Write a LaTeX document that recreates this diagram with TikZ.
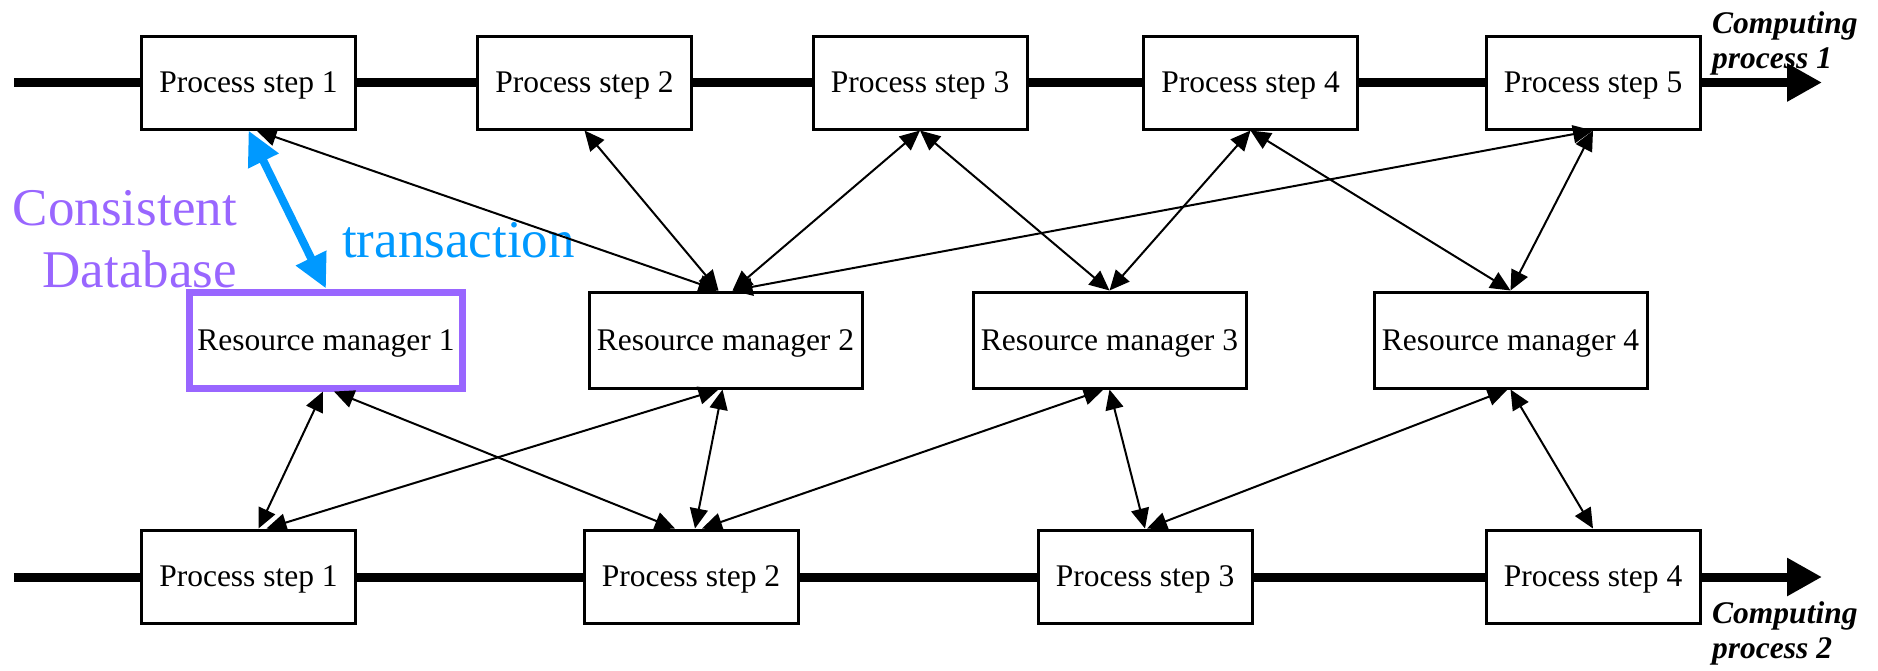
\documentclass[tikz,border=0pt]{standalone}
\usepackage{fontspec}
\setmainfont{Liberation Serif}
\usetikzlibrary{arrows.meta}
\definecolor{dbpurple}{RGB}{153,102,255}
\definecolor{txblue}{RGB}{0,153,255}

\begin{document}
\begin{tikzpicture}[x=1pt,y=-1pt,
  stepbox/.style={draw, line width=3pt, fill=white, minimum width=214pt,
    minimum height=93pt, inner sep=0pt, text depth=0pt,
    font=\fontsize{31.5pt}{35pt}\selectfont},
  rmbox/.style={stepbox, minimum width=273pt, minimum height=96pt},
  flow/.style={line width=9pt, -{Triangle[length=35pt,width=36pt]}},
  link/.style={line width=2pt,
    {Triangle[length=20pt,width=18pt]}-{Triangle[length=20pt,width=18pt]}},
  txlink/.style={color=txblue, line width=8pt,
    {Triangle[length=34pt,width=32pt]}-{Triangle[length=34pt,width=32pt]}},
  proclabel/.style={anchor=north west, inner sep=0pt, align=left,
    font=\fontsize{31.5pt}{35pt}\selectfont\bfseries\itshape},
  bigtext/.style={inner sep=0pt, font=\fontsize{53pt}{62pt}\selectfont}
]
\useasboundingbox (0,0) rectangle (1878,670);

% the two computing processes as time lines
\coordinate (flowAin)  at (14,82.5);
\coordinate (flowAout) at (1822,82.5);
\coordinate (flowBin)  at (14,577);
\coordinate (flowBout) at (1822,577);
\draw[flow] (flowAin) -- (flowAout);
\draw[flow] (flowBin) -- (flowBout);

% process steps of computing process 1
\node[stepbox] (t1) at (248.5,82.5) {Process step 1};
\node[stepbox] (t2) at (584.5,82.5) {Process step 2};
\node[stepbox] (t3) at (920,82.5)   {Process step 3};
\node[stepbox] (t4) at (1250.5,82.5) {Process step 4};
\node[stepbox] (t5) at (1593,82.5)  {Process step 5};

% resource managers
\node[rmbox, draw=dbpurple, line width=7pt] (rm1) at (326,340) {Resource manager 1};
\node[rmbox] (rm2) at (725.5,340)  {Resource manager 2};
\node[rmbox] (rm3) at (1109.5,340) {Resource manager 3};
\node[rmbox] (rm4) at (1510.5,340) {Resource manager 4};

% process steps of computing process 2
\node[stepbox] (b1) at (248.5,576.5) {Process step 1};
\node[stepbox] (b2) at (691,576.5)   {Process step 2};
\node[stepbox] (b3) at (1145,576.5)  {Process step 3};
\node[stepbox] (b4) at (1593,576.5)  {Process step 4};

% labels
\node[proclabel] (lab1) at (1712,11)  {Computing\\process 1};
\node[proclabel] (lab2) at (1712,601.3) {Computing\\process 2};
\node[bigtext, anchor=north east, align=right, text=dbpurple] (db) at (237,190)
  {Consistent\\Database};
\node[bigtext, anchor=base west, text=txblue] (tx) at (342,257) {transaction};

% upper connections
\draw[txlink] (t1.south) -- (rm1.north);
\draw[link] ([xshift=8pt]t1.south) -- ([xshift=-7pt]rm2.north);
\draw[link] (t2.south) -- ([xshift=-7pt]rm2.north);
\draw[link] (t3.south) -- ([xshift=7pt]rm2.north);
\draw[link] (t5.south) -- ([xshift=7pt]rm2.north);
\draw[link] (t3.south) -- (rm3.north);
\draw[link] (t4.south) -- (rm3.north);
\draw[link] (t4.south) -- (rm4.north);
\draw[link] (t5.south) -- (rm4.north);

% lower connections
\draw[link] ([xshift=-3pt]rm1.south) -- ([xshift=10pt]b1.north);
\draw[link] ([xshift=8pt]rm1.south) -- ([xshift=-16pt]b2.north);
\draw[link] ([xshift=-7pt]rm2.south) -- ([xshift=18pt]b1.north);
\draw[link] ([xshift=-3pt]rm2.south) -- ([xshift=4pt]b2.north);
\draw[link] ([xshift=-6pt]rm3.south) -- ([xshift=11pt]b2.north);
\draw[link] (rm3.south) -- (b3.north);
\draw[link] ([xshift=-3pt]rm4.south) -- ([xshift=2pt]b3.north);
\draw[link] (rm4.south) -- (b4.north);
\end{tikzpicture}
\end{document}
